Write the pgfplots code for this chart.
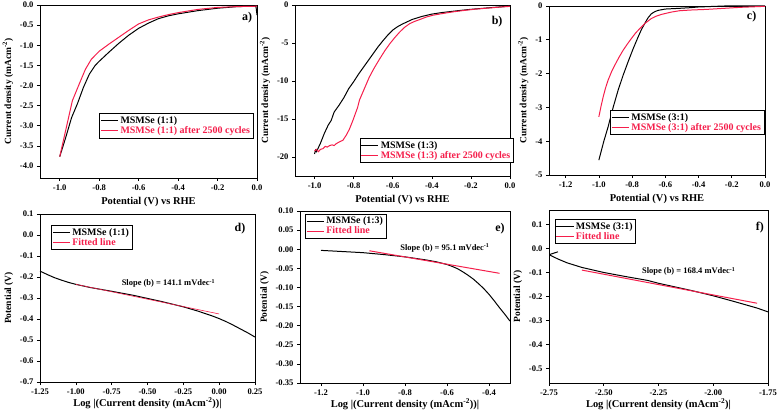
\documentclass[border=0pt]{standalone}
\usepackage{pgfplots}
\pgfplotsset{compat=1.18}
\usepackage{fontspec}
\setmainfont{Liberation Serif}
\definecolor{mred}{RGB}{245,30,75}
\pgfplotsset{
  panel/.style={
    scale only axis,
    anchor=south west,
    axis line style={line width=0.8pt},
    tick align=outside,
    xtick pos=bottom, ytick pos=left,
    major tick length=3bp,
    tick style={black, line width=0.6pt},
    /pgf/number format/assume math mode=true,
    tick label style={font=\fontsize{8.6}{9}\selectfont\bfseries},
    xlabel style={font=\fontsize{10.5}{12}\selectfont\bfseries},
    ylabel style={font=\fontsize{9.5}{11}\selectfont\bfseries},
    legend style={draw=black, line width=0.6pt, font=\fontsize{10}{11}\selectfont\bfseries, inner sep=1pt, row sep=-2.5pt, anchor=north west},
    legend cell align=left,
  },
  lowrow/.style={xlabel style={yshift=3.5bp}},
  p1/.style={/pgf/number format/.cd,fixed,fixed zerofill,precision=1},
  p2/.style={/pgf/number format/.cd,fixed,fixed zerofill,precision=2},
  blk/.style={black, line width=1pt, no markers},
  rd/.style={mred, line width=1pt, no markers},
}
\newcommand{\plab}[1]{\node[font=\fontsize{12}{13}\selectfont\bfseries] at #1}
\newcommand{\slopefont}{\fontsize{8.5}{9}\selectfont\bfseries}
\begin{document}
\begin{tikzpicture}
\useasboundingbox (0,0) rectangle (780bp,411bp);
% ---------------- a
\begin{axis}[panel, at={(40bp,233bp)}, width=217bp, height=173bp,
  xmin=-1.1, xmax=0, ymin=-4.3, ymax=0,
  xtick={-1,-0.8,-0.6,-0.4,-0.2,0}, ytick={-4,-3.5,-3,-2.5,-2,-1.5,-1,-0.5,0},
  xticklabel style={p1}, yticklabel style={p1},
  xlabel={Potential (V) vs RHE}, ylabel={Current density (mAcm\textsuperscript{-2})},
  legend style={at={(0.273,0.374)}}]
\addplot[blk] coordinates {(-1.0,-3.77)(-0.97,-3.3)(-0.94,-2.8)(-0.91,-2.45)(-0.88,-2.05)(-0.85,-1.72)(-0.82,-1.5)(-0.8,-1.4)(-0.75,-1.17)(-0.7,-0.95)(-0.65,-0.75)(-0.6,-0.58)(-0.55,-0.45)(-0.5,-0.34)(-0.45,-0.27)(-0.4,-0.22)(-0.3,-0.14)(-0.2,-0.08)(-0.1,-0.04)(-0.02,-0.03)(-0.005,-0.04)(0,-0.25)};
\addlegendentry{MSMSe (1:1)}
\addplot[rd] coordinates {(-1.0,-3.77)(-0.97,-3.12)(-0.936,-2.38)(-0.9,-1.95)(-0.87,-1.6)(-0.84,-1.35)(-0.8,-1.15)(-0.75,-0.97)(-0.7,-0.8)(-0.65,-0.63)(-0.6,-0.47)(-0.55,-0.37)(-0.5,-0.3)(-0.45,-0.24)(-0.4,-0.19)(-0.3,-0.11)(-0.2,-0.06)(-0.1,-0.04)(0,-0.03)};
\addlegendentry{\textcolor{mred}{MSMSe (1:1) after 2500 cycles}}
\plab{(rel axis cs:0.954,0.925)} {a)};
\end{axis}
% ---------------- b
\begin{axis}[panel, at={(295bp,235bp)}, width=215bp, height=171bp,
  xmin=-1.1, xmax=0, ymin=-22.5, ymax=0,
  xtick={-1,-0.8,-0.6,-0.4,-0.2,0}, ytick={-20,-15,-10,-5,0},
  xticklabel style={p1},
  xlabel={Potential (V) vs RHE}, ylabel={Current density (mAcm\textsuperscript{-2})},
  legend style={at={(0.30,0.222)}}]
\addplot[blk] coordinates {(-1.0,-19.6)(-0.995,-19.1)(-0.99,-19.3)(-0.97,-18.2)(-0.95,-16.9)(-0.93,-15.8)(-0.915,-15.2)(-0.9,-14.1)(-0.875,-13.2)(-0.85,-12.2)(-0.825,-11.0)(-0.8,-10.1)(-0.775,-9.1)(-0.75,-8.2)(-0.725,-7.3)(-0.7,-6.4)(-0.675,-5.5)(-0.65,-4.7)(-0.625,-3.95)(-0.6,-3.3)(-0.575,-2.85)(-0.55,-2.5)(-0.5,-1.9)(-0.45,-1.5)(-0.4,-1.2)(-0.35,-1.0)(-0.3,-0.85)(-0.25,-0.7)(-0.2,-0.57)(-0.15,-0.46)(-0.1,-0.35)(-0.05,-0.25)(0,-0.15)};
\addlegendentry{MSMSe (1:3)}
\addplot[rd] coordinates {(-1.0,-19.2)(-0.99,-19.0)(-0.98,-19.3)(-0.97,-19.0)(-0.957,-18.9)(-0.945,-18.6)(-0.935,-18.7)(-0.923,-18.5)(-0.91,-18.4)(-0.9,-18.5)(-0.889,-18.24)(-0.872,-18.0)(-0.855,-17.8)(-0.837,-17.1)(-0.821,-16.3)(-0.804,-15.2)(-0.78,-13.5)(-0.77,-12.5)(-0.745,-11.0)(-0.72,-9.5)(-0.695,-8.3)(-0.667,-7.1)(-0.64,-6.0)(-0.615,-5.1)(-0.59,-4.3)(-0.564,-3.55)(-0.54,-2.95)(-0.513,-2.45)(-0.487,-2.15)(-0.46,-1.9)(-0.43,-1.6)(-0.395,-1.35)(-0.34,-1.1)(-0.29,-0.9)(-0.23,-0.7)(-0.17,-0.53)(-0.1,-0.38)(-0.05,-0.27)(0,-0.18)};
\addlegendentry{\textcolor{mred}{MSMSe (1:3) after 2500 cycles}}
\plab{(rel axis cs:0.94,0.90)} {b)};
\end{axis}
% ---------------- c
\begin{axis}[panel, at={(549bp,236bp)}, width=216bp, height=169bp,
  xmin=-1.3, xmax=0, ymin=-5, ymax=0,
  xtick={-1.2,-1,-0.8,-0.6,-0.4,-0.2,0}, ytick={-5,-4,-3,-2,-1,0},
  xticklabel style={p1},
  xlabel={Potential (V) vs RHE}, ylabel={Current density (mAcm\textsuperscript{-2})},
  legend style={at={(0.283,0.384)}}]
\addplot[blk] coordinates {(-1.0,-4.56)(-0.97,-4.0)(-0.944,-3.57)(-0.914,-3.0)(-0.884,-2.49)(-0.854,-2.05)(-0.824,-1.65)(-0.794,-1.27)(-0.764,-0.92)(-0.744,-0.7)(-0.724,-0.52)(-0.704,-0.35)(-0.684,-0.23)(-0.664,-0.17)(-0.644,-0.13)(-0.6,-0.09)(-0.52,-0.07)(-0.45,-0.05)(-0.404,-0.03)(-0.3,-0.01)(-0.244,0)(0,0)};
\addlegendentry{MSMSe (3:1)}
\addplot[rd] coordinates {(-1.0,-3.28)(-0.987,-2.97)(-0.974,-2.69)(-0.96,-2.43)(-0.944,-2.19)(-0.924,-1.95)(-0.904,-1.75)(-0.879,-1.52)(-0.854,-1.31)(-0.829,-1.13)(-0.804,-0.96)(-0.779,-0.8)(-0.754,-0.67)(-0.724,-0.52)(-0.684,-0.37)(-0.654,-0.3)(-0.624,-0.25)(-0.564,-0.18)(-0.514,-0.14)(-0.45,-0.12)(-0.35,-0.1)(-0.25,-0.07)(-0.15,-0.04)(-0.05,-0.02)(0,-0.01)};
\addlegendentry{\textcolor{mred}{MSMSe (3:1) after 2500 cycles}}
\plab{(rel axis cs:0.938,0.937)} {c)};
\end{axis}
% ---------------- d
\begin{axis}[panel, lowrow, at={(40bp,29bp)}, width=215bp, height=168bp,
  xmin=-1.25, xmax=0.25, ymin=-0.7, ymax=0.1,
  xtick={-1.25,-1,-0.75,-0.5,-0.25,0,0.25}, ytick={-0.7,-0.6,-0.5,-0.4,-0.3,-0.2,-0.1,0,0.1},
  xticklabel style={p2}, yticklabel style={p1},
  xlabel={Log |(Current density (mAcm\textsuperscript{-2}))|}, ylabel={Potential (V)},
  legend style={at={(0.051,0.934)}}]
\addplot[blk] coordinates {(-1.25,-0.172)(-1.2,-0.188)(-1.15,-0.203)(-1.1,-0.215)(-1.05,-0.226)(-1.0,-0.235)(-0.9,-0.25)(-0.75,-0.268)(-0.6,-0.287)(-0.5,-0.302)(-0.4,-0.317)(-0.25,-0.342)(-0.15,-0.362)(-0.05,-0.385)(0.0,-0.398)(0.05,-0.413)(0.1,-0.43)(0.15,-0.448)(0.2,-0.466)(0.25,-0.486)};
\addlegendentry{MSMSe (1:1)}
\addplot[mred, line width=0.6pt, no markers] coordinates {(-1.0,-0.235)(0.0,-0.376)};
\addlegendentry{\textcolor{mred}{Fitted line}}
\node[font=\slopefont] at (axis cs:-0.354,-0.231) {Slope (b) = 141.1 mVdec\textsuperscript{-1}};
\plab{(rel axis cs:0.93,0.913)} {d)};
\end{axis}
% ---------------- e
\begin{axis}[panel, lowrow, at={(300bp,28bp)}, width=210bp, height=172bp,
  xmin=-1.3, xmax=-0.3, ymin=-0.35, ymax=0.1,
  xtick={-1.2,-1,-0.8,-0.6,-0.4}, ytick={-0.35,-0.3,-0.25,-0.2,-0.15,-0.1,-0.05,0,0.05,0.1},
  xticklabel style={p1}, yticklabel style={p2},
  xlabel={Log |(Current density (mAcm\textsuperscript{-2}))|}, ylabel={Potential (V)},
  legend style={at={(0.024,0.984)}}]
\addplot[blk] coordinates {(-1.2,-0.003)(-1.1,-0.006)(-1.0,-0.009)(-0.9,-0.014)(-0.8,-0.02)(-0.7,-0.028)(-0.65,-0.033)(-0.6,-0.04)(-0.575,-0.045)(-0.55,-0.051)(-0.525,-0.059)(-0.5,-0.068)(-0.475,-0.078)(-0.45,-0.09)(-0.425,-0.103)(-0.4,-0.118)(-0.375,-0.135)(-0.35,-0.153)(-0.325,-0.17)(-0.3,-0.188)};
\addlegendentry{MSMSe (1:3)}
\addplot[rd] coordinates {(-0.97,-0.004)(-0.35,-0.063)};
\addlegendentry{\textcolor{mred}{Fitted line}}
\node[font=\slopefont] at (axis cs:-0.61,0.003) {Slope (b) = 95.1 mVdec\textsuperscript{-1}};
\plab{(rel axis cs:0.952,0.898)} {e)};
\end{axis}
% ---------------- f
\begin{axis}[panel, lowrow, at={(549bp,28bp)}, width=219bp, height=173bp,
  xmin=-2.75, xmax=-1.75, ymin=-0.56, ymax=0.16,
  xtick={-2.75,-2.5,-2.25,-2,-1.75}, ytick={-0.5,-0.4,-0.3,-0.2,-0.1,0,0.1},
  xticklabel style={p2}, yticklabel style={p1},
  xlabel={Log |(Current density (mAcm\textsuperscript{-2})|}, ylabel={Potential (V)},
  legend style={at={(0.026,0.947)}}]
\addplot[blk] coordinates {(-2.709,-0.014)(-2.75,-0.026)(-2.709,-0.044)(-2.667,-0.06)(-2.6,-0.079)(-2.5,-0.1)(-2.4,-0.117)(-2.3,-0.133)(-2.25,-0.145)(-2.2,-0.155)(-2.1,-0.175)(-2.0,-0.197)(-1.9,-0.222)(-1.8,-0.248)(-1.75,-0.264)};
\addlegendentry{MSMSe (3:1)}
\addplot[rd] coordinates {(-2.6,-0.09)(-1.8,-0.228)};
\addlegendentry{\textcolor{mred}{Fitted line}}
\node[font=\slopefont] at (axis cs:-2.112,-0.096) {Slope (b) = 168.4 mVdec\textsuperscript{-1}};
\plab{(rel axis cs:0.963,0.898)} {f)};
\end{axis}
\end{tikzpicture}
\end{document}
